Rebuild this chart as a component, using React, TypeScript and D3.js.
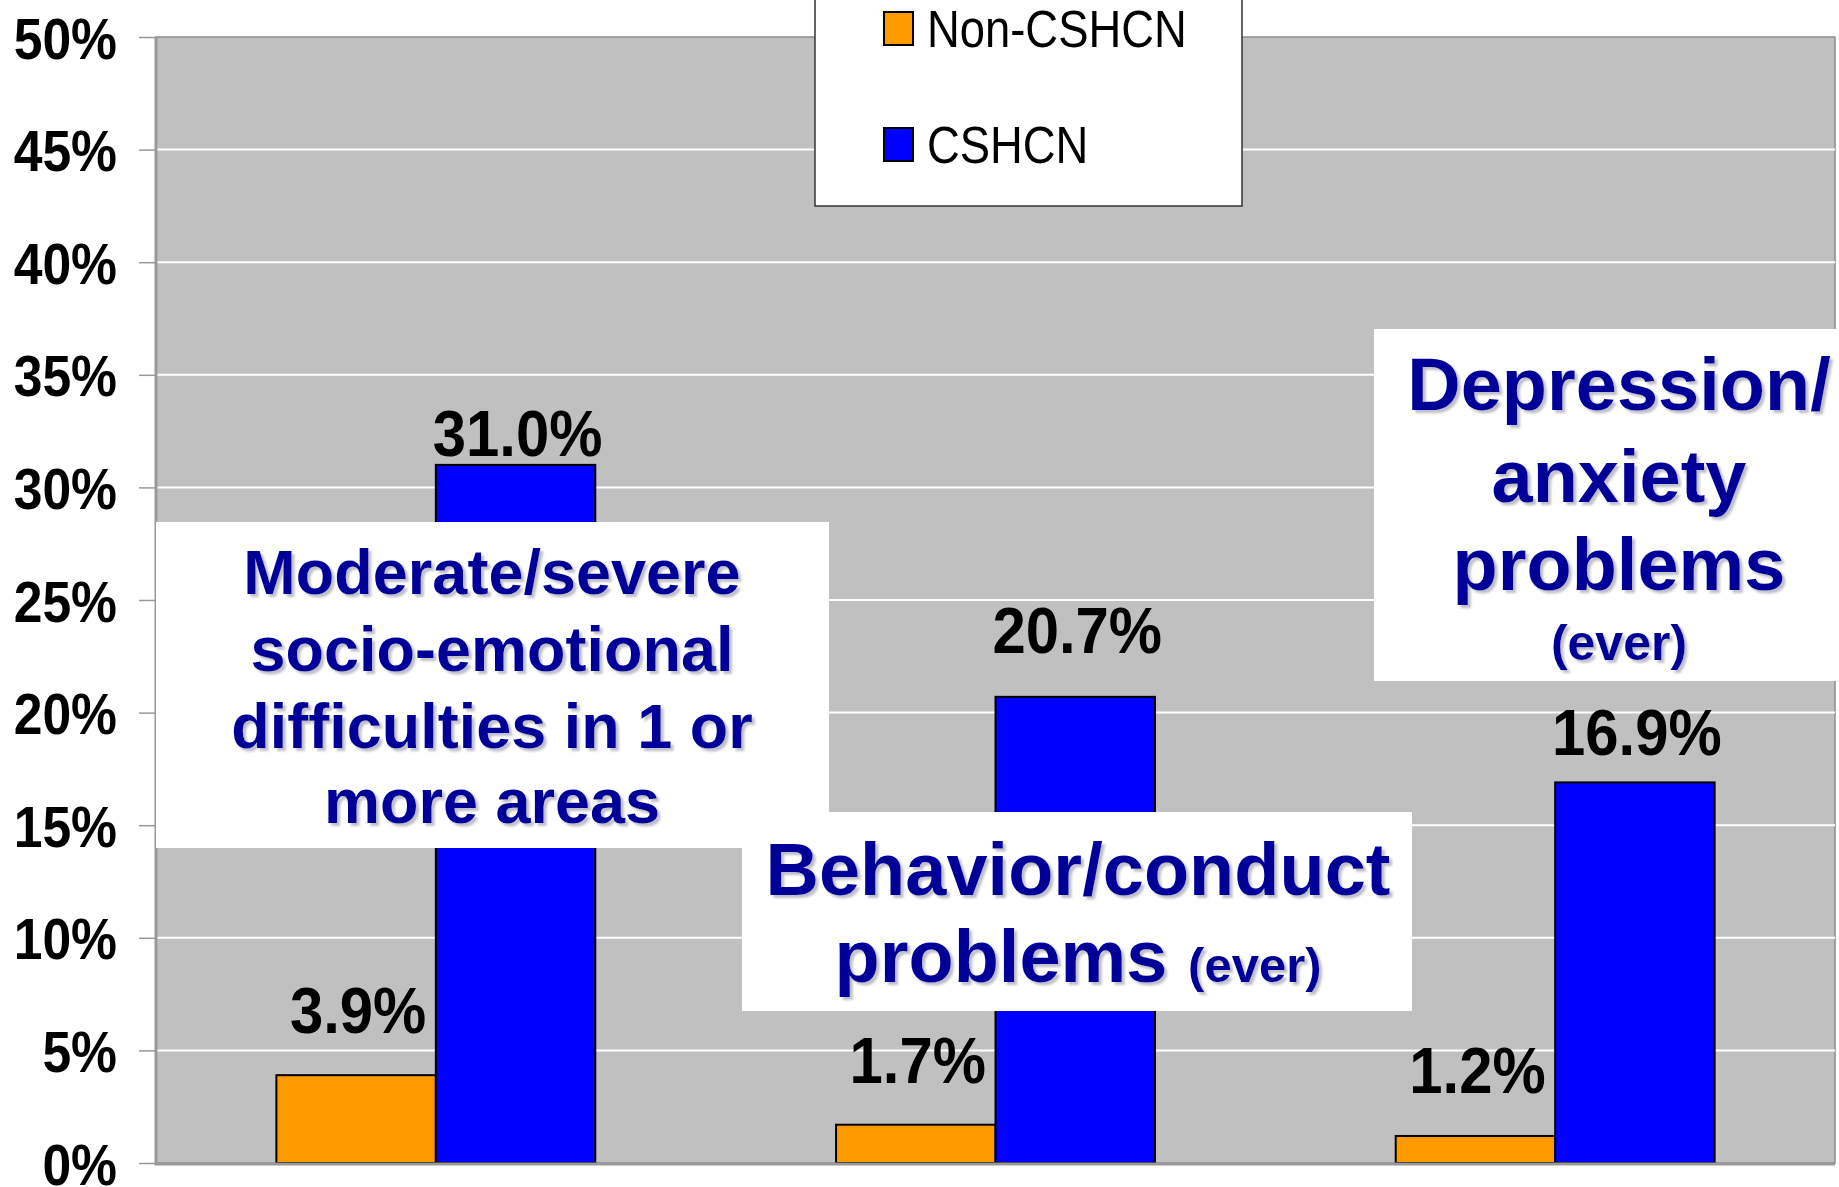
import { useRef, useEffect } from "react";
import * as d3 from "d3";

const categories = ["Socio-emotional", "Behavior/conduct", "Depression/anxiety"];
const seriesNames = ["Non-CSHCN", "CSHCN"];
const nonCshcnValues = [3.9, 1.7, 1.2];
const cshcnValues = [31.0, 20.7, 16.9];
const yTicks = [0, 5, 10, 15, 20, 25, 30, 35, 40, 45, 50];
const seriesColors = ["#FF9900", "#0000FF"];

// annotation boxes text
const box1Lines = ["Moderate/severe", "socio-emotional", "difficulties in 1 or", "more areas"];
const box2Lines = ["Behavior/conduct", "problems"];
const box3Lines = ["Depression/", "anxiety", "problems", "(ever)"];

// label lift above bar top (px), per category / per series
const labelLift = [
  [42, 9],
  [42, 44],
  [43, 27],
];

const FONT = "'Liberation Sans', Arial, sans-serif";
const TEXT_BLUE = "#000099";

const App = () => {
  const svgRef = useRef(null);
  const width = 1839;
  const height = 1187;

  useEffect(() => {
    if (!svgRef.current) return;
    const svg = d3.select(svgRef.current).attr("width", width).attr("height", height);
    svg.selectAll("*").remove();

    const plot = { left: 156, right: 1835, top: 37, bottom: 1163 };

    const defs = svg.append("defs");
    const f = defs
      .append("filter")
      .attr("id", "shadow")
      .attr("x", "-10%")
      .attr("y", "-10%")
      .attr("width", "120%")
      .attr("height", "130%");
    f.append("feDropShadow")
      .attr("dx", 3)
      .attr("dy", 3)
      .attr("stdDeviation", 1.2)
      .attr("flood-color", "#8a8aa0")
      .attr("flood-opacity", 0.55);

    const yScale = d3.scaleLinear().domain([0, 50]).range([plot.bottom, plot.top]);
    const x0 = d3
      .scaleBand()
      .domain(categories)
      .range([plot.left, plot.right])
      .paddingInner(0)
      .paddingOuter(0);
    // two bars per group, Excel gap width ~150%
    const x1 = d3
      .scaleBand()
      .domain(seriesNames)
      .range([0, x0.bandwidth()])
      .paddingInner(0)
      .paddingOuter(0.755);

    // plot background
    svg
      .append("rect")
      .attr("x", plot.left)
      .attr("y", plot.top)
      .attr("width", plot.right - plot.left)
      .attr("height", plot.bottom - plot.top)
      .attr("fill", "#C0C0C0")
      .attr("stroke", "#8c8c8c")
      .attr("stroke-width", 1.5);

    // gridlines
    svg
      .append("g")
      .selectAll("line")
      .data(yTicks.filter((t) => t > 0 && t < 50))
      .join("line")
      .attr("x1", plot.left)
      .attr("x2", plot.right)
      .attr("y1", (d) => yScale(d))
      .attr("y2", (d) => yScale(d))
      .attr("stroke", "#ffffff")
      .attr("stroke-width", 2);

    // y axis
    const yAxis = d3
      .axisLeft(yScale)
      .tickValues(yTicks)
      .tickSize(17)
      .tickFormat((d) => `${d}%`);
    const yg = svg.append("g").attr("transform", `translate(${plot.left},0)`).call(yAxis);
    yg.select(".domain").remove();
    yg.selectAll(".tick line").attr("stroke", "#999").attr("stroke-width", 1.5);
    yg.selectAll(".tick text").remove();
    yg.selectAll(".tick")
      .append("text")
      .attr("transform", "translate(-39,21) scale(0.89,1)")
      .attr("text-anchor", "end")
      .attr("font-family", FONT)
      .attr("font-weight", "bold")
      .attr("font-size", 58)
      .attr("fill", "#000")
      .text((d) => `${d}%`);

    // axis lines
    svg
      .append("line")
      .attr("x1", plot.left)
      .attr("x2", plot.left)
      .attr("y1", plot.top)
      .attr("y2", plot.bottom + 1.5)
      .attr("stroke", "#999")
      .attr("stroke-width", 3);

    // bars
    const data = categories.map((c, i) => ({
      category: c,
      idx: i,
      values: [
        { name: seriesNames[0], s: 0, value: nonCshcnValues[i] },
        { name: seriesNames[1], s: 1, value: cshcnValues[i] },
      ],
    }));

    const groups = svg
      .append("g")
      .selectAll("g")
      .data(data)
      .join("g")
      .attr("transform", (d) => `translate(${x0(d.category)},0)`);

    groups
      .selectAll("rect")
      .data((d) => d.values)
      .join("rect")
      .attr("x", (d) => x1(d.name))
      .attr("y", (d) => yScale(d.value))
      .attr("width", x1.bandwidth())
      .attr("height", (d) => plot.bottom - yScale(d.value))
      .attr("fill", (d) => seriesColors[d.s])
      .attr("stroke", "#000")
      .attr("stroke-width", 2);

    svg
      .append("line")
      .attr("x1", plot.left - 1.5)
      .attr("x2", plot.right)
      .attr("y1", plot.bottom + 1)
      .attr("y2", plot.bottom + 1)
      .attr("stroke", "#999")
      .attr("stroke-width", 3);

    // value labels
    groups
      .selectAll("text.val")
      .data((d) => d.values.map((v) => ({ ...v, idx: d.idx })))
      .join("text")
      .attr("class", "val")
      .attr(
        "transform",
        (d) =>
          `translate(${x1(d.name) + x1.bandwidth() / 2 + 2},${yScale(d.value) - labelLift[d.idx][d.s]}) scale(0.935,1)`
      )
      .attr("text-anchor", "middle")
      .attr("font-family", FONT)
      .attr("font-weight", "bold")
      .attr("font-size", 64)
      .attr("fill", "#000")
      .text((d) => `${d.value.toFixed(1)}%`);

    // legend
    const legend = svg.append("g");
    legend
      .append("rect")
      .attr("x", 815)
      .attr("y", -5)
      .attr("width", 427)
      .attr("height", 211)
      .attr("fill", "#fff")
      .attr("stroke", "#333")
      .attr("stroke-width", 1.5);
    seriesNames.forEach((name, i) => {
      const yTop = i === 0 ? 12 : 128;
      legend
        .append("rect")
        .attr("x", 884)
        .attr("y", yTop)
        .attr("width", 29)
        .attr("height", 33)
        .attr("fill", seriesColors[i])
        .attr("stroke", "#000")
        .attr("stroke-width", 2);
      legend
        .append("text")
        .attr("transform", `translate(927,${yTop + 35}) scale(0.89,1)`)
        .attr("font-family", FONT)
        .attr("font-size", 51)
        .attr("fill", "#000")
        .text(name);
    });

    // annotation boxes
    const annot = svg.append("g");
    function box(x, y, w, h) {
      annot
        .append("rect")
        .attr("x", x)
        .attr("y", y)
        .attr("width", w)
        .attr("height", h)
        .attr("fill", "#fff");
    }
    function line(cx, baseline, size) {
      return annot
        .append("text")
        .attr("x", cx)
        .attr("y", baseline)
        .attr("text-anchor", "middle")
        .attr("font-family", FONT)
        .attr("font-weight", "bold")
        .attr("font-size", size)
        .attr("fill", TEXT_BLUE)
        .attr("filter", "url(#shadow)");
    }

    box(156, 522, 673, 326);
    const b1Base = [594, 671, 748, 823];
    box1Lines.forEach((t, i) => line(492, b1Base[i], 63).text(t));

    box(742, 812, 670, 199);
    line(1078, 895, 74).text(box2Lines[0]);
    const l2 = line(1078, 982, 74);
    l2.append("tspan").text(box2Lines[1] + " ");
    l2.append("tspan").attr("font-size", 49).text("(ever)");

    box(1374, 329, 470, 352);
    const b3Base = [410, 502, 590, 660];
    box3Lines.forEach((t, i) => line(1619, b3Base[i], i === 3 ? 50 : 74).text(t));
  }, []);

  return (
    <div style={{ position: "absolute", left: 0, top: 0, width: width, height: height, background: "#fff" }}>
      <svg ref={svgRef} style={{ display: "block" }}></svg>
    </div>
  );
};

export default App;
